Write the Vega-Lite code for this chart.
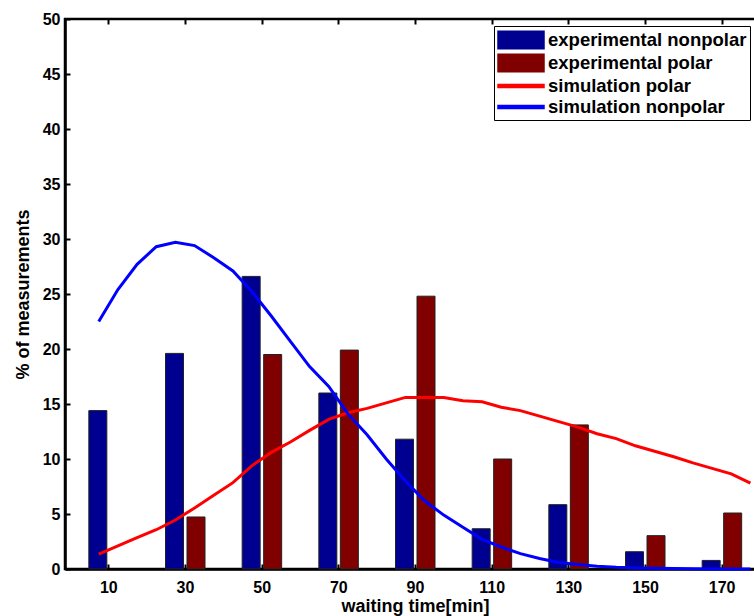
{
  "$schema": "https://vega.github.io/schema/vega-lite/v6.json",
  "width": 700,
  "height": 550,
  "autosize": "none",
  "padding": {"left": 65, "top": 19, "right": 0, "bottom": 47},
  "background": "white",
  "config": {
    "view": {"stroke": "black", "strokeWidth": 2.5},
    "font": "Liberation Sans",
    "axis": {"grid": false, "labelFont": "Liberation Sans", "labelFontWeight": "bold", "labelFontSize": 16, "labelColor": "black", "titleFont": "Liberation Sans", "titleFontWeight": "bold", "titleFontSize": 18, "titleColor": "black", "tickColor": "black", "tickWidth": 2, "domainColor": "black", "domainWidth": 2.5}
  },
  "data": {"values": [
    {"series": "experimental nonpolar", "t": 10, "pct": 14.4},
    {"series": "experimental nonpolar", "t": 30, "pct": 19.6},
    {"series": "experimental nonpolar", "t": 50, "pct": 26.6},
    {"series": "experimental nonpolar", "t": 70, "pct": 16.0},
    {"series": "experimental nonpolar", "t": 90, "pct": 11.8},
    {"series": "experimental nonpolar", "t": 110, "pct": 3.66},
    {"series": "experimental nonpolar", "t": 130, "pct": 5.85},
    {"series": "experimental nonpolar", "t": 150, "pct": 1.57},
    {"series": "experimental nonpolar", "t": 170, "pct": 0.78},
    {"series": "experimental polar", "t": 30, "pct": 4.73},
    {"series": "experimental polar", "t": 50, "pct": 19.5},
    {"series": "experimental polar", "t": 70, "pct": 19.9},
    {"series": "experimental polar", "t": 90, "pct": 24.8},
    {"series": "experimental polar", "t": 110, "pct": 10.0},
    {"series": "experimental polar", "t": 130, "pct": 13.1},
    {"series": "experimental polar", "t": 150, "pct": 3.03},
    {"series": "experimental polar", "t": 170, "pct": 5.09},
    {"series": "simulation polar", "t": 7.5, "pct": 1.35},
    {"series": "simulation polar", "t": 12.5, "pct": 2.1},
    {"series": "simulation polar", "t": 17.5, "pct": 2.85},
    {"series": "simulation polar", "t": 22.5, "pct": 3.57},
    {"series": "simulation polar", "t": 27.5, "pct": 4.45},
    {"series": "simulation polar", "t": 32.5, "pct": 5.55},
    {"series": "simulation polar", "t": 37.5, "pct": 6.7},
    {"series": "simulation polar", "t": 42.5, "pct": 7.85},
    {"series": "simulation polar", "t": 47.5, "pct": 9.4},
    {"series": "simulation polar", "t": 52.5, "pct": 10.6},
    {"series": "simulation polar", "t": 57.5, "pct": 11.55},
    {"series": "simulation polar", "t": 62.5, "pct": 12.6},
    {"series": "simulation polar", "t": 67.5, "pct": 13.6},
    {"series": "simulation polar", "t": 72.5, "pct": 14.2},
    {"series": "simulation polar", "t": 77.5, "pct": 14.6},
    {"series": "simulation polar", "t": 82.5, "pct": 15.1},
    {"series": "simulation polar", "t": 87.5, "pct": 15.6},
    {"series": "simulation polar", "t": 92.5, "pct": 15.6},
    {"series": "simulation polar", "t": 97.5, "pct": 15.6},
    {"series": "simulation polar", "t": 102.5, "pct": 15.3},
    {"series": "simulation polar", "t": 107.5, "pct": 15.2},
    {"series": "simulation polar", "t": 112.5, "pct": 14.7},
    {"series": "simulation polar", "t": 117.5, "pct": 14.4},
    {"series": "simulation polar", "t": 122.5, "pct": 13.9},
    {"series": "simulation polar", "t": 127.5, "pct": 13.4},
    {"series": "simulation polar", "t": 132.5, "pct": 12.9},
    {"series": "simulation polar", "t": 137.5, "pct": 12.3},
    {"series": "simulation polar", "t": 142.5, "pct": 11.85},
    {"series": "simulation polar", "t": 147.5, "pct": 11.2},
    {"series": "simulation polar", "t": 152.5, "pct": 10.7},
    {"series": "simulation polar", "t": 157.5, "pct": 10.2},
    {"series": "simulation polar", "t": 162.5, "pct": 9.65},
    {"series": "simulation polar", "t": 167.5, "pct": 9.15},
    {"series": "simulation polar", "t": 172.5, "pct": 8.65},
    {"series": "simulation polar", "t": 177.5, "pct": 7.8},
    {"series": "simulation nonpolar", "t": 7.5, "pct": 22.5},
    {"series": "simulation nonpolar", "t": 12.5, "pct": 25.4},
    {"series": "simulation nonpolar", "t": 17.5, "pct": 27.7},
    {"series": "simulation nonpolar", "t": 22.5, "pct": 29.3},
    {"series": "simulation nonpolar", "t": 27.5, "pct": 29.7},
    {"series": "simulation nonpolar", "t": 32.5, "pct": 29.4},
    {"series": "simulation nonpolar", "t": 37.5, "pct": 28.3},
    {"series": "simulation nonpolar", "t": 42.5, "pct": 27.1},
    {"series": "simulation nonpolar", "t": 47.5, "pct": 25.2},
    {"series": "simulation nonpolar", "t": 52.5, "pct": 23.0},
    {"series": "simulation nonpolar", "t": 57.5, "pct": 20.7},
    {"series": "simulation nonpolar", "t": 62.5, "pct": 18.4},
    {"series": "simulation nonpolar", "t": 67.5, "pct": 16.6},
    {"series": "simulation nonpolar", "t": 72.5, "pct": 14.1},
    {"series": "simulation nonpolar", "t": 77.5, "pct": 12.2},
    {"series": "simulation nonpolar", "t": 82.5, "pct": 10.0},
    {"series": "simulation nonpolar", "t": 87.5, "pct": 8.0},
    {"series": "simulation nonpolar", "t": 92.5, "pct": 6.2},
    {"series": "simulation nonpolar", "t": 97.5, "pct": 4.9},
    {"series": "simulation nonpolar", "t": 102.5, "pct": 3.8},
    {"series": "simulation nonpolar", "t": 107.5, "pct": 2.7},
    {"series": "simulation nonpolar", "t": 112.5, "pct": 2.0},
    {"series": "simulation nonpolar", "t": 117.5, "pct": 1.4},
    {"series": "simulation nonpolar", "t": 122.5, "pct": 0.95},
    {"series": "simulation nonpolar", "t": 127.5, "pct": 0.6},
    {"series": "simulation nonpolar", "t": 132.5, "pct": 0.4},
    {"series": "simulation nonpolar", "t": 137.5, "pct": 0.25},
    {"series": "simulation nonpolar", "t": 142.5, "pct": 0.15},
    {"series": "simulation nonpolar", "t": 147.5, "pct": 0.1},
    {"series": "simulation nonpolar", "t": 152.5, "pct": 0.06},
    {"series": "simulation nonpolar", "t": 157.5, "pct": 0.04},
    {"series": "simulation nonpolar", "t": 162.5, "pct": 0.02},
    {"series": "simulation nonpolar", "t": 167.5, "pct": 0.01},
    {"series": "simulation nonpolar", "t": 172.5, "pct": 0.01},
    {"series": "simulation nonpolar", "t": 177.5, "pct": 0.0}
  ]},
  "resolve": {"axis": {"x": "independent"}},
  "layer": [
    {
      "transform": [{"filter": "datum.series === 'experimental nonpolar'"}],
      "mark": {"type": "bar", "width": 18, "xOffset": -10.5, "stroke": "#222222", "strokeWidth": 1},
      "encoding": {
        "x": {"field": "t", "type": "quantitative", "scale": {"domain": [0, 180], "nice": false, "zero": false},
          "axis": {"orient": "bottom", "values": [10, 30, 50, 70, 90, 110, 130, 150, 170], "tickSize": -5, "labelPadding": 15, "title": "waiting time[min]", "titlePadding": 2}},
        "y": {"field": "pct", "type": "quantitative", "scale": {"domain": [0, 50], "nice": false},
          "axis": {"values": [0, 5, 10, 15, 20, 25, 30, 35, 40, 45, 50], "tickSize": -5, "labelPadding": 10, "title": "% of measurements", "titlePadding": 10}},
        "color": {"field": "series", "type": "nominal",
          "scale": {"domain": ["experimental nonpolar", "experimental polar", "simulation polar", "simulation nonpolar"], "range": ["#000090", "#800000", "#ff0000", "#0000ff"]},
          "legend": {
            "title": null, "orient": "none", "legendX": 429, "legendY": 7,
            "strokeColor": "black", "fillColor": "white", "padding": 3,
            "labelFont": "Liberation Sans", "labelFontSize": 18.5, "labelFontWeight": "bold", "labelColor": "black", "labelLimit": 400,
            "symbolSize": 400, "labelOffset": 29, "rowPadding": -2.2, "symbolOpacity": 1
          }}
      }
    },
    {
      "transform": [{"filter": "datum.series === 'experimental polar'"}],
      "mark": {"type": "bar", "width": 18, "xOffset": 11, "stroke": "#222222", "strokeWidth": 1},
      "encoding": {
        "x": {"field": "t", "type": "quantitative", "axis": null},
        "y": {"field": "pct", "type": "quantitative"},
        "color": {"field": "series", "type": "nominal", "legend": null}
      }
    },
    {
      "transform": [{"filter": "datum.series === 'simulation polar'"}],
      "mark": {"type": "line", "strokeWidth": 3},
      "encoding": {
        "x": {"field": "t", "type": "quantitative", "axis": null},
        "y": {"field": "pct", "type": "quantitative"},
        "color": {"field": "series", "type": "nominal", "legend": null}
      }
    },
    {
      "transform": [{"filter": "datum.series === 'simulation nonpolar'"}],
      "mark": {"type": "line", "strokeWidth": 3},
      "encoding": {
        "x": {"field": "t", "type": "quantitative",
          "axis": {"orient": "top", "values": [10, 30, 50, 70, 90, 110, 130, 150, 170], "labels": false, "domain": false, "tickSize": -5, "title": null}},
        "y": {"field": "pct", "type": "quantitative"},
        "color": {"field": "series", "type": "nominal", "legend": null}
      }
    },
    {
      "transform": [{"filter": "false"}],
      "mark": {"type": "point", "filled": true},
      "encoding": {
        "x": {"field": "t", "type": "quantitative", "axis": null},
        "y": {"field": "pct", "type": "quantitative"},
        "color": {"field": "series", "type": "nominal", "legend": null},
        "shape": {"field": "series", "type": "nominal",
          "scale": {"domain": ["experimental nonpolar", "experimental polar", "simulation polar", "simulation nonpolar"],
            "range": ["M-1,-0.87L3.6,-0.87L3.6,0.87L-1,0.87Z", "M-1,-0.87L3.6,-0.87L3.6,0.87L-1,0.87Z", "M-1,-0.15L3.6,-0.15L3.6,0.15L-1,0.15Z", "M-1,-0.15L3.6,-0.15L3.6,0.15L-1,0.15Z"]}}
      }
    }
  ]
}
